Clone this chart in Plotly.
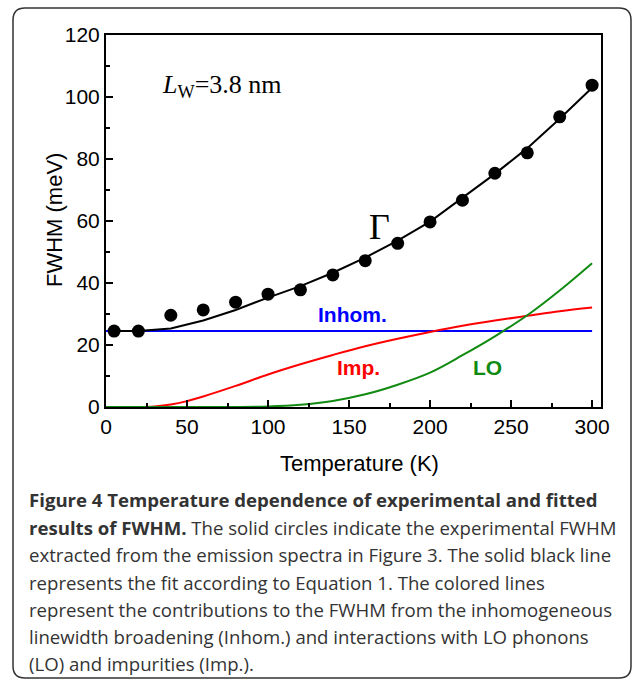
import plotly.graph_objects as go

# ---- data ----
T_exp = [5, 20, 40, 60, 80, 100, 120, 140, 160, 180, 200, 220, 240, 260, 280, 300]
FWHM_exp = [24.5, 24.5, 29.6, 31.3, 33.8, 36.4, 37.8, 42.6, 47.2, 52.8, 59.7, 66.7, 75.4, 82.0, 93.6, 103.8]

T_fit = [5, 20, 40, 60, 80, 100, 120, 140, 160, 180, 200, 220, 240, 260, 280, 300]
FWHM_fit = [24.5, 24.5, 25.3, 27.9, 31.3, 35.3, 39.0, 43.3, 48.2, 53.7, 59.8, 67.4, 75.2, 83.5, 93.0, 103.0]

T_comp = [0, 5, 20, 30, 40, 50, 60, 80, 100, 120, 140, 160, 180, 200, 220, 240, 260, 280, 300]
Inhom = [24.5] * len(T_comp)
Imp = [0.0, 0.0, 0.0, 0.2, 0.8, 1.9, 3.4, 6.8, 10.5, 13.8, 16.8, 19.6, 22.0, 24.2, 26.2, 27.9, 29.4, 30.9, 32.1]
LO = [0.0, 0.0, 0.0, 0.0, 0.0, 0.0, 0.0, 0.02, 0.19, 0.75, 1.97, 4.1, 7.2, 11.1, 16.7, 22.8, 29.6, 37.6, 46.4]

x_ticks = [0, 50, 100, 150, 200, 250, 300]
y_ticks = [0, 20, 40, 60, 80, 100, 120]

caption_lines = [
    "<b>Figure 4 Temperature dependence of experimental and fitted</b>",
    "<b>results of FWHM.</b> The solid circles indicate the experimental FWHM",
    "extracted from the emission spectra in Figure 3. The solid black line",
    "represents the fit according to Equation 1. The colored lines",
    "represent the contributions to the FWHM from the inhomogeneous",
    "linewidth broadening (Inhom.) and interactions with LO phonons",
    "(LO) and impurities (Imp.).",
]

W, H = 632, 679
ML, MR, MT, MB = 106, 31, 35, 272
PW, PH = W - ML - MR, H - MT - MB


def px(xpix):
    return (xpix - ML) / PW


def py(ypix):
    return (H - MB - ypix) / PH


fig = go.Figure()
fig.add_trace(go.Scatter(x=T_comp, y=Inhom, mode="lines", line=dict(color="#0000ff", width=2), showlegend=False))
fig.add_trace(go.Scatter(x=T_comp, y=Imp, mode="lines", line=dict(color="#ff0000", width=2, shape="spline"), showlegend=False))
fig.add_trace(go.Scatter(x=T_comp, y=LO, mode="lines", line=dict(color="#108a10", width=2, shape="spline"), showlegend=False))
fig.add_trace(go.Scatter(x=T_fit, y=FWHM_fit, mode="lines", line=dict(color="black", width=2), showlegend=False))
fig.add_trace(go.Scatter(x=T_exp, y=FWHM_exp, mode="markers", marker=dict(color="black", size=13), showlegend=False))

axis_common = dict(
    showline=True, linecolor="black", linewidth=2, mirror=True,
    ticks="inside", ticklen=7, tickwidth=1.5, tickcolor="black",
    showgrid=False, zeroline=False,
    tickfont=dict(family="Liberation Sans, Arial", size=21, color="black"),
)

fig.update_xaxes(range=[0, 305.5], tickvals=x_ticks,
                 minor=dict(ticks="inside", ticklen=4, tickwidth=1.5, tickcolor="black", dtick=25, tick0=0, showgrid=False),
                 **axis_common)
fig.update_yaxes(range=[0, 120], tickvals=y_ticks,
                 minor=dict(ticks="inside", ticklen=4, tickwidth=1.5, tickcolor="black", dtick=10, tick0=0, showgrid=False),
                 **axis_common)

ann = []
ann.append(dict(text="Temperature (K)", xref="paper", yref="paper", x=px(359), y=py(463),
                showarrow=False, xanchor="center", yanchor="middle",
                font=dict(family="Liberation Sans, Arial", size=22, color="black")))
ann.append(dict(text="FWHM (meV)", xref="paper", yref="paper", x=px(54), y=py(220), textangle=-90,
                showarrow=False, xanchor="center", yanchor="middle",
                font=dict(family="Liberation Sans, Arial", size=22, color="black")))
ann.append(dict(text="<i>L</i><sub>W</sub>=3.8 nm", xref="x", yref="y", x=33.3, y=103.5,
                showarrow=False, xanchor="left", yanchor="middle",
                font=dict(family="Liberation Serif, Times New Roman", size=26, color="black")))
ann.append(dict(text="Γ", xref="x", yref="y", x=169, y=58,
                showarrow=False, xanchor="center", yanchor="middle",
                font=dict(family="Liberation Serif, Times New Roman", size=36, color="black")))
ann.append(dict(text="<b>Inhom.</b>", xref="x", yref="y", x=151.9, y=29.7,
                showarrow=False, xanchor="center", yanchor="middle",
                font=dict(family="Liberation Sans, Arial", size=21, color="#0000ff")))
ann.append(dict(text="<b>Imp.</b>", xref="x", yref="y", x=155.9, y=12.9,
                showarrow=False, xanchor="center", yanchor="middle",
                font=dict(family="Liberation Sans, Arial", size=21, color="#ff0000")))
ann.append(dict(text="<b>LO</b>", xref="x", yref="y", x=235.2, y=12.9,
                showarrow=False, xanchor="center", yanchor="middle",
                font=dict(family="Liberation Sans, Arial", size=21, color="#108a10")))

line_y = [499, 527, 554, 582, 609, 636, 663]
for txt, yc in zip(caption_lines, line_y):
    ann.append(dict(text=txt, xref="paper", yref="paper", x=px(27), y=py(yc),
                    showarrow=False, xanchor="left", yanchor="middle", align="left",
                    font=dict(family="Open Sans", size=18.6, color="#333333")))

# rounded border box
x0, x1 = px(13), px(631)
y1, y0 = py(8), py(678)
rx, ry = 12 / PW, 12 / PH
path = (f"M {x0+rx},{y1} L {x1-rx},{y1} Q {x1},{y1} {x1},{y1-ry} "
        f"L {x1},{y0+ry} Q {x1},{y0} {x1-rx},{y0} "
        f"L {x0+rx},{y0} Q {x0},{y0} {x0},{y0+ry} "
        f"L {x0},{y1-ry} Q {x0},{y1} {x0+rx},{y1} Z")

fig.update_layout(
    width=W, height=H,
    margin=dict(l=ML, r=MR, t=MT, b=MB),
    paper_bgcolor="white", plot_bgcolor="white",
    annotations=ann,
    shapes=[dict(type="path", path=path, xref="paper", yref="paper",
                 line=dict(color="#333333", width=1.5), layer="below")],
)

fig.write_html("out.html",
               config={"displayModeBar": False},
               post_script="document.body.style.margin='0';document.body.style.overflow='hidden';")
